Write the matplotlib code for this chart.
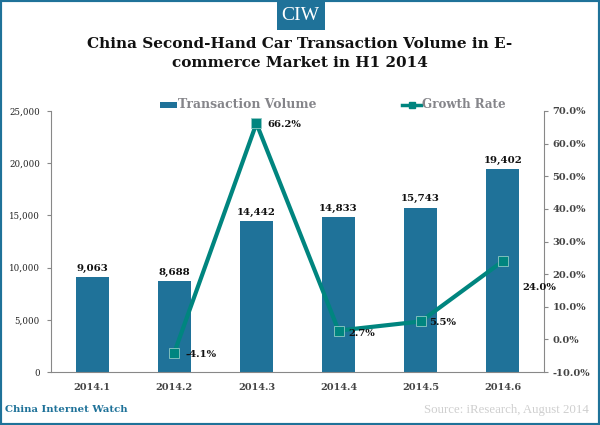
import matplotlib
matplotlib.use('Agg')
import matplotlib.pyplot as plt
from matplotlib.patches import Rectangle

plt.rcParams['font.family'] = ['DejaVu Serif']

months = ['2014.1', '2014.2', '2014.3', '2014.4', '2014.5', '2014.6']
volume = [9063, 8688, 14442, 14833, 15743, 19402]
growth = [None, -4.1, 66.2, 2.7, 5.5, 24.0]
volume_ticks = [0, 5000, 10000, 15000, 20000, 25000]
growth_ticks = [-10, 0, 10, 20, 30, 40, 50, 60, 70]

BLUE = '#1f7299'
TEAL = '#00857f'
W, H = 600, 425

fig = plt.figure(figsize=(W / 100, H / 100), dpi=100)
fig.patch.set_facecolor('white')

# page frame and logo
fig.add_artist(Rectangle((0, 0), 1, 1, transform=fig.transFigure, fill=False,
                         ec=BLUE, lw=3))
fig.add_artist(Rectangle((277 / W, 1 - 30 / H), 48 / W, 30 / H, transform=fig.transFigure,
                         fc=BLUE, ec='none'))
fig.text(300 / W, 1 - 15 / H, 'CIW', color='white', fontsize=14, ha='center', va='center',
         family='Liberation Serif')

fig.text(300 / W, 1 - 44 / H, 'China Second-Hand Car Transaction Volume in E-', fontsize=11,
         fontweight='bold', ha='center', va='center', color='#111111')
fig.text(300 / W, 1 - 63 / H, 'commerce Market in H1 2014', fontsize=11,
         fontweight='bold', ha='center', va='center', color='#111111')

ax = fig.add_axes([51 / W, 1 - 372 / H, 493 / W, 261 / H])
x = list(range(len(months)))
ax.bar(x, volume, width=0.4, color=BLUE, zorder=2)
ax.set_xlim(-0.5, 5.5)
ax.set_ylim(0, 25000)
ax.set_xticks(x)
ax.set_xticklabels(months, fontsize=7, fontweight='bold', color='#444444')
ax.set_yticks(volume_ticks)
ax.set_yticklabels(['{:,}'.format(v) for v in volume_ticks], fontsize=6.2, color='#222222')
ax.tick_params(axis='x', length=0, pad=8)
ax.tick_params(axis='y', length=3, width=0.8, color='#888888', pad=5)
for s in ['top', 'right']:
    ax.spines[s].set_visible(False)
for s in ['left', 'bottom']:
    ax.spines[s].set_color('#888888')

for i, v in enumerate(volume):
    ax.annotate('{:,}'.format(v), (i, v), xytext=(0, 3), textcoords='offset points',
                ha='center', va='bottom', fontsize=7.4, fontweight='bold', color='#111111')

ax2 = ax.twinx()
gx = [i for i, g in enumerate(growth) if g is not None]
gy = [g for g in growth if g is not None]
ax2.plot(gx, gy, color=TEAL, lw=3, marker='s', ms=7, mfc=TEAL, mec='#8fc9c4', mew=0.6, zorder=3)
ax2.set_ylim(-10, 70)
ax2.set_yticks(growth_ticks)
ax2.set_yticklabels(['{:.1f}%'.format(g) for g in growth_ticks], fontsize=7.1,
                    fontweight='bold', color='#444444')
ax2.tick_params(axis='y', length=3, width=0.8, color='#888888', pad=3)
for s in ['top', 'left', 'bottom']:
    ax2.spines[s].set_visible(False)
ax2.spines['right'].set_color('#888888')

offsets = {1: (8, -1), 2: (8, -1), 3: (7, -2), 4: (6, -1), 5: (14, -19)}
for i, g in zip(gx, gy):
    ax2.annotate('{:.1f}%'.format(g), (i, g), xytext=offsets[i], textcoords='offset points',
                 ha='left', va='center', fontsize=7.2, fontweight='bold', color='#111111',
                 zorder=5)

# legend drawn by hand to hold the wide gap between the two entries
fig.add_artist(Rectangle((160 / W, 1 - 108 / H), 17 / W, 6 / H, transform=fig.transFigure,
                         fc=BLUE, ec='none'))
fig.text(178 / W, 1 - 105 / H, 'Transaction Volume', fontsize=8.9, fontweight='bold',
         color='#85858a', va='center')
fig.add_artist(plt.Line2D([402 / W, 421 / W], [1 - 105 / H, 1 - 105 / H], color=TEAL, lw=2.5,
                          transform=fig.transFigure))
fig.add_artist(plt.Line2D([411.5 / W], [1 - 105 / H], color=TEAL, marker='s', ms=5,
                          transform=fig.transFigure))
fig.text(422 / W, 1 - 105 / H, 'Growth Rate', fontsize=8.6, fontweight='bold',
         color='#85858a', va='center')

fig.text(5 / W, 1 - 410 / H, 'China Internet Watch', fontsize=7.3, fontweight='bold',
         color=BLUE, va='center')
fig.text(589 / W, 1 - 410 / H, 'Source: iResearch, August 2014', fontsize=9.3,
         color='#cfcfcf', va='center', ha='right', family='Liberation Serif')

fig.savefig('out.png', dpi=100)
